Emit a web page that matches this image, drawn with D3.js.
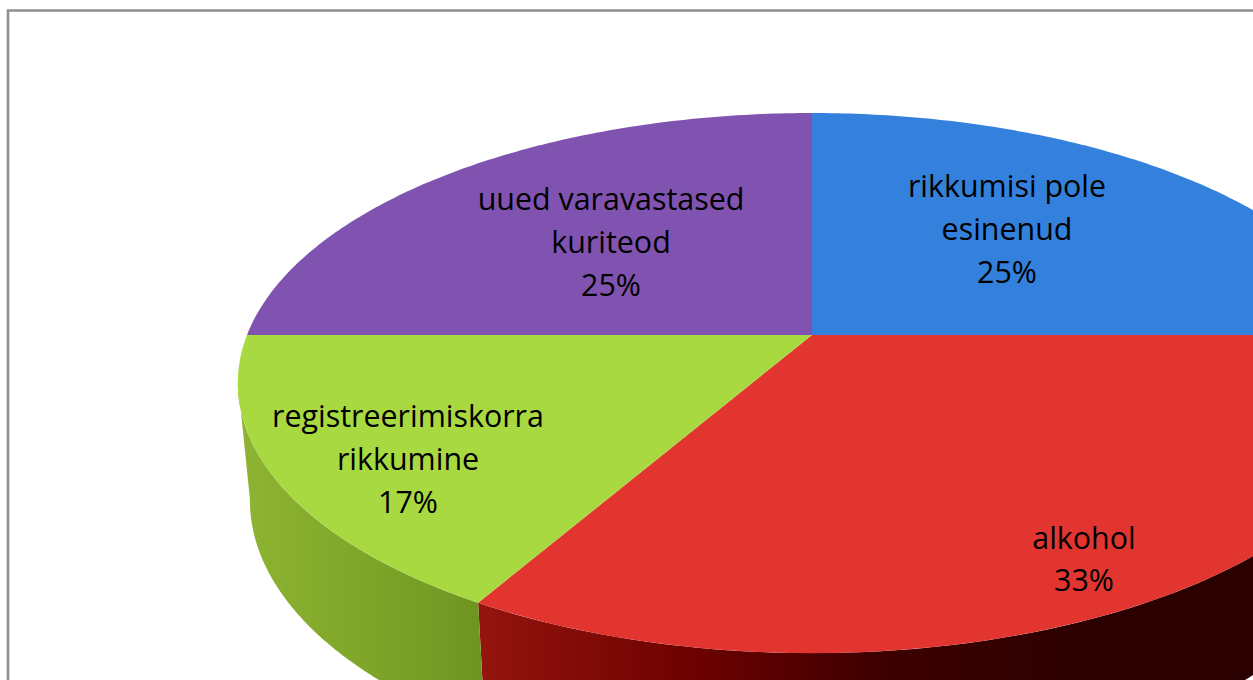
<!DOCTYPE html>
<html><head><meta charset="utf-8">
<script src="https://cdn.jsdelivr.net/npm/d3@7"></script>
<style>html,body{margin:0;padding:0;background:#fff;overflow:hidden}svg{display:block}</style>
</head><body><svg id="c" width="1253" height="680"></svg>
<script>
const categories = ["rikkumisi pole esinenud", "alkohol", "registreerimiskorra rikkumine", "uued varavastased kuriteod"];
const values = [25, 33.33, 16.67, 25];
const labelLines = [["rikkumisi pole", "esinenud"], ["alkohol"], ["registreerimiskorra", "rikkumine"], ["uued varavastased", "kuriteod"]];
const colors = ["#3380dd", "#e23530", "#a8d940", "#8153b0"];
const wallStops = [
  null,
  [[0, "#95140e"], [0.33, "#6e0200"], [0.62, "#3f0000"], [1, "#2a0000"]],
  [[0, "#8fb433"], [0.5, "#7fa629"], [1, "#6e9421"]],
  null
];
const labelAnchors = [[1007, 197], [1084, 549], [408, 427], [611, 210]];
const lineSteps = [43, 42, 43, 43];

const svg = d3.select("#c");
const cx = 812, cy = 335, R = 565, A = 261.5, K = 0.178;
const rimY = 383, lowY = 500, lowSX = 0.979, lowSY = 1.045;
const tangentBack = 260 * Math.PI / 180, tangentFront = 100 * Math.PI / 180;

const top3d = t => {
  const u = Math.sin(t), v = Math.cos(t), w = 1 + K * v;
  return [cx + R * u / w, cy - A * v / w];
};
const low3d = t => {
  const [x, y] = top3d(t);
  return [cx + (x - cx) * lowSX, lowY + (y - rimY) * lowSY];
};
const arcSamples = (a, b) => d3.range(0, 121).map(i => a + (b - a) * i / 120);

const arcs = d3.pie().sort(null).value(d => d)(values);
const defs = svg.append("defs");
const line = d3.line();

svg.append("path")
  .attr("d", "M8,680V10.5H1253")
  .attr("fill", "none").attr("stroke", "#8f8f8f").attr("stroke-width", 2.6);

// side walls
arcs.forEach((d, i) => {
  if (!wallStops[i]) return;
  const a = Math.max(d.startAngle, tangentFront), b = Math.min(d.endAngle, tangentBack);
  const ts = arcSamples(a, b);
  const pts = ts.map(top3d).concat(ts.slice().reverse().map(low3d));
  const xs = d3.extent(pts, p => p[0]);
  const g = defs.append("linearGradient").attr("id", "w" + i)
    .attr("gradientUnits", "userSpaceOnUse")
    .attr("x1", xs[0]).attr("x2", i === 1 ? 1110 : xs[1]).attr("y1", 0).attr("y2", 0);
  wallStops[i].forEach(s => g.append("stop").attr("offset", s[0]).attr("stop-color", s[1]));
  svg.append("path").attr("d", line(pts) + "Z").attr("fill", `url(#w${i})`);
});

// top faces
arcs.forEach((d, i) => {
  const pts = [[cx, cy]].concat(arcSamples(d.startAngle, d.endAngle).map(top3d));
  svg.append("path").attr("d", line(pts) + "Z").attr("fill", colors[i]);
});

// labels
const fmt = d3.format(".0f");
arcs.forEach((d, i) => {
  const lines = labelLines[i].concat(fmt(d.value) + "%");
  const t = svg.append("text")
    .attr("text-anchor", "middle")
    .attr("font-family", "'Open Sans', 'Noto Sans', sans-serif")
    .attr("font-size", 30.4).attr("fill", "#000");
  lines.forEach((s, j) => t.append("tspan")
    .attr("x", labelAnchors[i][0])
    .attr("y", labelAnchors[i][1] + j * lineSteps[i])
    .text(s));
});
</script></body></html>
